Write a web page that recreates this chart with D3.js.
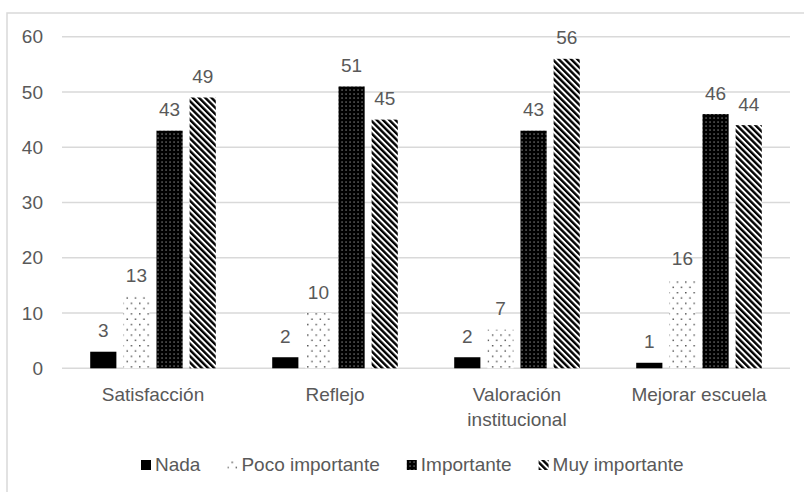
<!DOCTYPE html>
<html>
<head>
<meta charset="utf-8">
<script src="https://cdn.jsdelivr.net/npm/d3@7"></script>
<style>
  html, body { margin: 0; padding: 0; background: #fff; }
  svg text { font-family: "Liberation Sans", Arial, sans-serif; fill: #595959; }
</style>
</head>
<body>
<svg id="chart" width="804" height="492"></svg>
<script>
// Categories, series and values
const categories = ["Satisfacción", "Reflejo", "Valoración institucional", "Mejorar escuela"];
const seriesNames = ["Nada", "Poco importante", "Importante", "Muy importante"];
const nada = [3, 2, 2, 1];
const pocoImportante = [13, 10, 7, 16];
const importante = [43, 51, 43, 46];
const muyImportante = [49, 45, 56, 44];
const yTicks = [0, 10, 20, 30, 40, 50, 60];

const seriesValues = [nada, pocoImportante, importante, muyImportante];
const fills = ["#000", "url(#pat-poco)", "url(#pat-imp)", "url(#pat-muy)"];

const svg = d3.select("#chart");
const fontSize = 19;
const plotLeft = 62, plotRight = 790, plotTop = 36.7, plotBottom = 368.3;

// Fill patterns
const defs = svg.append("defs");
const poco = defs.append("pattern").attr("id", "pat-poco")
  .attr("patternUnits", "userSpaceOnUse").attr("width", 8.4).attr("height", 10.6);
poco.append("rect").attr("width", 8.4).attr("height", 10.6).attr("fill", "#fff");
poco.append("rect").attr("x", 0.5).attr("y", 0.5).attr("width", 1.4).attr("height", 1.4).attr("fill", "#444");
poco.append("rect").attr("x", 4.7).attr("y", 5.8).attr("width", 1.4).attr("height", 1.4).attr("fill", "#444");

const imp = defs.append("pattern").attr("id", "pat-imp")
  .attr("patternUnits", "userSpaceOnUse").attr("width", 4).attr("height", 4);
imp.append("rect").attr("width", 4).attr("height", 4).attr("fill", "#000");
imp.append("rect").attr("x", 1.5).attr("y", 1.5).attr("width", 1.1).attr("height", 1.1).attr("fill", "#bbb");

const muy = defs.append("pattern").attr("id", "pat-muy")
  .attr("patternUnits", "userSpaceOnUse").attr("width", 4.4).attr("height", 10)
  .attr("patternTransform", "rotate(-45)");
muy.append("rect").attr("width", 4.4).attr("height", 10).attr("fill", "#fff");
muy.append("rect").attr("width", 2.4).attr("height", 10).attr("fill", "#000");

// Outer frame
svg.append("rect").attr("x", 7).attr("y", 13).attr("width", 800).attr("height", 500)
  .attr("fill", "none").attr("stroke", "#d9d9d9").attr("stroke-width", 1.5);

// Scales
const x0 = d3.scaleBand().domain(categories).range([plotLeft, plotRight])
  .paddingInner(0.31).paddingOuter(0.155);
const x1 = d3.scaleBand().domain(seriesNames).range([0, x0.bandwidth()]).paddingInner(0.21);
const y = d3.scaleLinear().domain([0, 60]).range([plotBottom, plotTop]);

// Gridlines
svg.append("g").selectAll("line").data(yTicks).join("line")
  .attr("x1", plotLeft).attr("x2", plotRight)
  .attr("y1", d => y(d)).attr("y2", d => y(d))
  .attr("stroke", "#d9d9d9").attr("stroke-width", 1.5);

// Y axis labels
svg.append("g").selectAll("text").data(yTicks).join("text")
  .attr("x", 43).attr("y", d => y(d)).attr("dy", "0.35em")
  .attr("text-anchor", "end").attr("font-size", fontSize)
  .text(d => d);

// Bars and value labels
const rows = [];
categories.forEach((c, ci) => {
  seriesNames.forEach((s, si) => rows.push({ cat: c, ser: s, si, value: seriesValues[si][ci] }));
});

svg.append("g").selectAll("rect").data(rows).join("rect")
  .attr("x", d => x0(d.cat) + x1(d.ser))
  .attr("y", d => y(d.value))
  .attr("width", x1.bandwidth())
  .attr("height", d => y(0) - y(d.value))
  .attr("fill", d => fills[d.si]);

svg.append("g").selectAll("text").data(rows).join("text")
  .attr("x", d => x0(d.cat) + x1(d.ser) + x1.bandwidth() / 2)
  .attr("y", d => y(d.value) - 14.5)
  .attr("text-anchor", "middle").attr("font-size", fontSize)
  .text(d => d.value);

// Category labels, wrapped to the band step
const catG = svg.append("g");
categories.forEach(c => {
  const cx = x0(c) + x0.bandwidth() / 2;
  const t = catG.append("text").attr("x", cx).attr("y", 401)
    .attr("text-anchor", "middle").attr("font-size", fontSize);
  const words = c.split(" ");
  let line = [];
  let tspan = t.append("tspan").attr("x", cx).attr("dy", 0);
  words.forEach(w => {
    line.push(w);
    tspan.text(line.join(" "));
    if (tspan.node().getComputedTextLength() > x0.step() - 10 && line.length > 1) {
      line.pop();
      tspan.text(line.join(" "));
      line = [w];
      tspan = t.append("tspan").attr("x", cx).attr("dy", 25).text(w);
    }
  });
});

// Legend
const legend = svg.append("g");
let lx = 141;
seriesNames.forEach((s, si) => {
  legend.append("rect").attr("x", lx).attr("y", 460).attr("width", 10).attr("height", 10)
    .attr("fill", fills[si]);
  const t = legend.append("text").attr("x", lx + 14).attr("y", 471)
    .attr("font-size", fontSize).text(s);
  lx += 14 + t.node().getComputedTextLength() + 27;
});
</script>
</body>
</html>
